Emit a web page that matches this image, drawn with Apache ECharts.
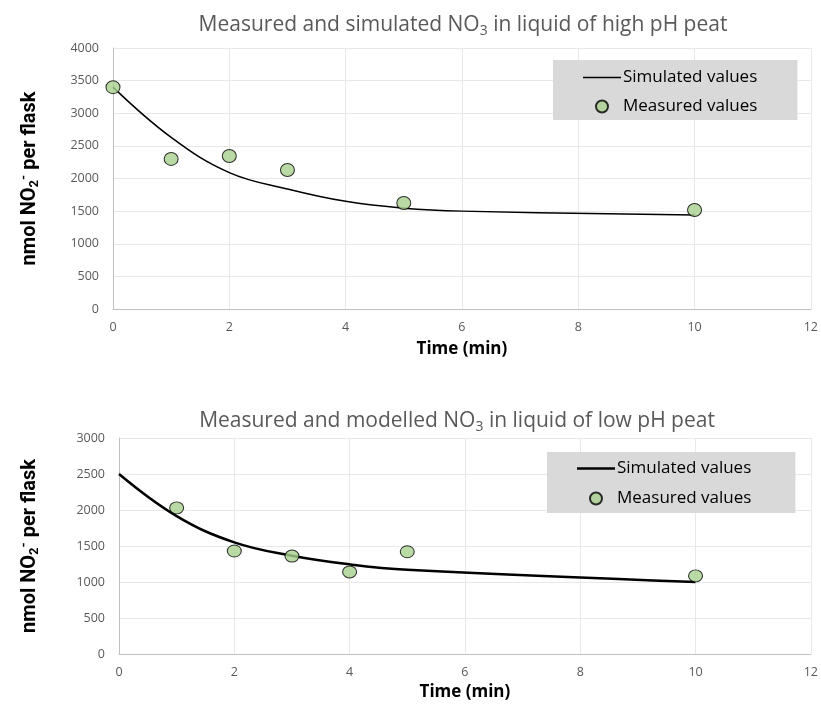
<!DOCTYPE html>
<html>
<head>
<meta charset="utf-8">
<script src="https://cdn.jsdelivr.net/npm/echarts@6/dist/echarts.min.js"></script>
<style>
  html, body { margin: 0; padding: 0; background: #fff; }
  #chart { width: 821px; height: 704px; }
</style>
</head>
<body>
<div id="chart"></div>
<script>
// high pH peat
const highSimX = [0, 1, 2, 3, 4, 5, 6, 10];
const highSimY = [3400, 2630, 2090, 1840, 1650, 1545, 1500, 1440];
const highMeasX = [0, 1, 2, 3, 5, 10];
const highMeasY = [3400, 2300, 2345, 2130, 1625, 1517];

// low pH peat
const lowSimX = [0, 1, 2, 3, 4, 5, 10];
const lowSimY = [2500, 1915, 1550, 1365, 1245, 1170, 1000];
const lowMeasX = [1, 2, 3, 4, 5, 10];
const lowMeasY = [2030, 1430, 1360, 1140, 1420, 1085];

const xTicks = [0, 2, 4, 6, 8, 10, 12];

function pairs(xs, ys) {
    return xs.map((x, i) => [x, ys[i]]);
}

const font = "'Open Sans', sans-serif";
const narrowBold = "'Liberation Sans Narrow', 'Roboto', sans-serif";
const greyText = '#595959';
// thin line icon for the legend (blank points keep the box height)
const lineIcon = 'path://M0,0L0.01,0Z M0,5.3H38V6.7H0Z M0,12L0.01,12Z';
const thickIcon = 'path://M0,0L0.01,0Z M0,4.8H38V7.2H0Z M0,12L0.01,12Z';

let myCharts = echarts.init(document.getElementById('chart'));

function titleOf(text, left, top) {
    return {
        text: text,
        left: left,
        top: top,
        textAlign: 'center',
        textStyle: {
            fontFamily: font,
            fontSize: 21,
            fontWeight: 'normal',
            color: greyText,
            rich: {
                sub: { fontFamily: font, fontSize: 14, color: greyText, padding: [12, 0, 0, 0] }
            }
        }
    };
}

function xAxisOf(gridIndex, gap) {
    return {
        gridIndex: gridIndex,
        type: 'value',
        min: 0,
        max: 12,
        interval: 2,
        name: 'Time (min)',
        nameLocation: 'middle',
        nameGap: gap,
        nameTextStyle: { fontFamily: font, fontSize: 17, fontWeight: 'bold', color: '#000' },
        axisLine: { show: true, lineStyle: { color: '#bfbfbf', width: 1 } },
        axisTick: { show: false },
        axisLabel: { fontFamily: font, fontSize: 12.5, color: greyText, margin: 12,
            formatter: v => xTicks.includes(v) ? String(v) : '' },
        splitLine: { show: true, lineStyle: { color: '#e8e8e8' } }
    };
}

function yAxisOf(gridIndex, max, gap) {
    return {
        gridIndex: gridIndex,
        type: 'value',
        min: 0,
        max: max,
        interval: 500,
        name: 'nmol NO{sub|2}{sup|-} per flask',
        nameLocation: 'middle',
        nameGap: gap,
        nameTextStyle: {
            fontFamily: narrowBold, fontSize: 20, fontWeight: 'bold', color: '#000',
            rich: {
                sub: { fontFamily: narrowBold, fontSize: 13, fontWeight: 'bold', color: '#000', padding: [10, 0, 0, 0] },
                sup: { fontFamily: narrowBold, fontSize: 13, fontWeight: 'bold', color: '#000', padding: [0, 0, 9, 0] }
            }
        },
        axisLine: { show: true, lineStyle: { color: '#bfbfbf', width: 1 } },
        axisTick: { show: false },
        axisLabel: { fontFamily: font, fontSize: 12.5, color: greyText, margin: 14,
            formatter: v => String(v) },
        splitLine: { show: true, lineStyle: { color: '#e8e8e8' } }
    };
}

function legendOf(names, icon, left, top, padding, gap) {
    return {
        data: [
            { name: names[0], icon: icon },
            { name: names[1] }
        ],
        orient: 'vertical',
        left: left,
        top: top,
        backgroundColor: '#d9d9d9',
        padding: padding,
        itemGap: gap,
        itemWidth: 38,
        itemHeight: 12,
        textStyle: { fontFamily: font, fontSize: 17, color: '#000', padding: [0, 0, 0, -3] },
        formatter: name => name.replace(/ \(.*\)$/, '')
    };
}

const scatterStyle = { color: '#a9d18e', borderColor: '#000', borderWidth: 1 };

let option = {
    animation: false,
    title: [
        titleOf('Measured and simulated NO{sub|3} in liquid of high pH peat', 458, 7),
        titleOf('Measured and modelled NO{sub|3} in liquid of low pH peat', 452, 403)
    ],
    legend: [
        legendOf(['Simulated values (high)', 'Measured values (high)'], lineIcon, 553, 60, [9, 40, 5, 30], 12),
        legendOf(['Simulated values (low)', 'Measured values (low)'], thickIcon, 547, 452, [8, 44, 6, 30], 13)
    ],
    grid: [
        { left: 113, right: 9, top: 48, bottom: 395 },
        { left: 119, right: 9, top: 438, bottom: 50 }
    ],
    xAxis: [xAxisOf(0, 32), xAxisOf(1, 30)],
    yAxis: [yAxisOf(0, 4000, 72), yAxisOf(1, 3000, 78)],
    series: [
        {
            name: 'Simulated values (high)',
            type: 'line',
            xAxisIndex: 0, yAxisIndex: 0,
            data: pairs(highSimX, highSimY),
            smooth: 0.4,
            symbol: 'none',
            lineStyle: { color: '#000', width: 1.5 },
            itemStyle: { color: '#000' }
        },
        {
            name: 'Measured values (high)',
            type: 'scatter',
            xAxisIndex: 0, yAxisIndex: 0,
            data: pairs(highMeasX, highMeasY),
            symbol: 'circle',
            symbolSize: [14, 13],
            itemStyle: scatterStyle,
            z: 3
        },
        {
            name: 'Simulated values (low)',
            type: 'line',
            xAxisIndex: 1, yAxisIndex: 1,
            data: pairs(lowSimX, lowSimY),
            smooth: 0.4,
            symbol: 'none',
            lineStyle: { color: '#000', width: 2.5 },
            itemStyle: { color: '#000' }
        },
        {
            name: 'Measured values (low)',
            type: 'scatter',
            xAxisIndex: 1, yAxisIndex: 1,
            data: pairs(lowMeasX, lowMeasY),
            symbol: 'circle',
            symbolSize: [14, 12],
            itemStyle: scatterStyle,
            z: 3
        }
    ]
};
myCharts.setOption(option);
</script>
</body>
</html>
